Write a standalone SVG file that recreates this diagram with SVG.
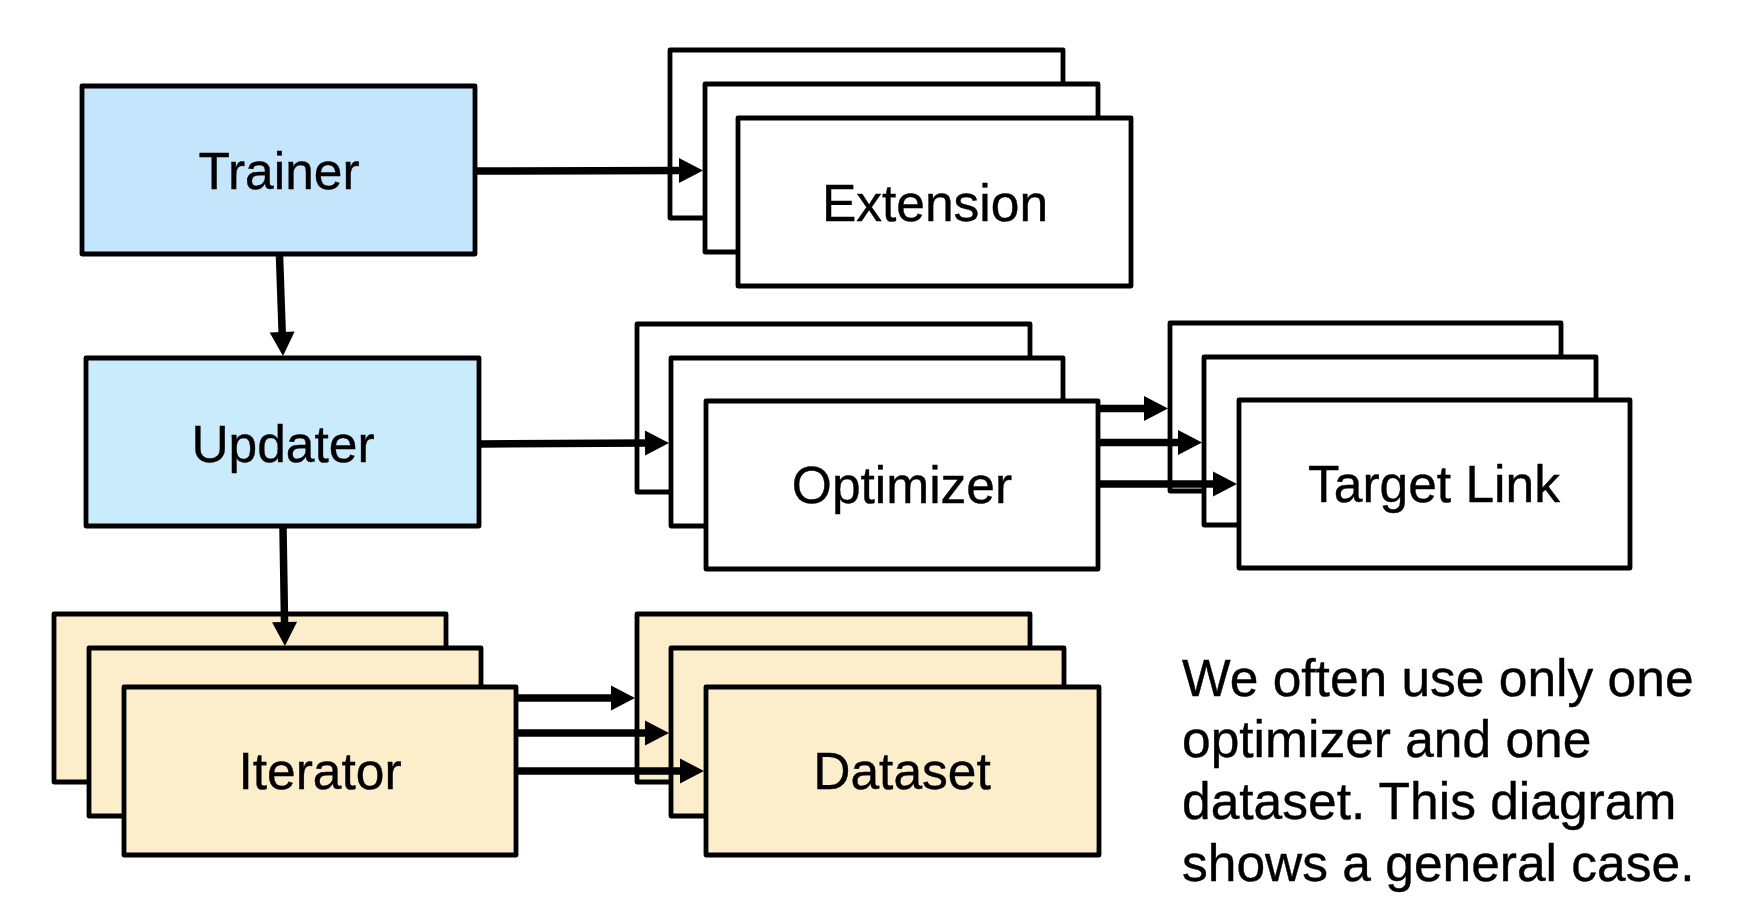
<svg xmlns="http://www.w3.org/2000/svg" width="1748" height="918" viewBox="0 0 1748 918">
<style>
.box{stroke:#000;stroke-width:4.8;stroke-linejoin:round}
.blue{fill:#c4e5fb}
.blue2{fill:#c9ebfc}
.white{fill:#fff}
.cream{fill:#fdeecb}
.lbl{font-family:"Liberation Sans",Arial,sans-serif;font-size:51.5px;fill:#000;stroke:#000;stroke-width:0.4;text-anchor:middle}
.note{font-family:"Liberation Sans",Arial,sans-serif;font-size:51.5px;fill:#000;stroke:#000;stroke-width:0.4}
.conn{stroke:#000;stroke-width:7.5;fill:none;marker-end:url(#ah)}
</style>
<defs>
<marker id="ah" markerUnits="userSpaceOnUse" markerWidth="26" markerHeight="26" refX="4" refY="12.5" orient="auto" overflow="visible">
<path d="M0,0 L24,12.5 L0,25 Z" fill="#000"/>
</marker>
</defs>
<rect width="1748" height="918" fill="#fff"/>
<g id="trainer">
<rect class="box blue" x="82" y="86" width="393" height="168"/>
<text class="lbl" x="279" y="189">Trainer</text>
</g>
<g id="updater">
<rect class="box blue2" x="86" y="358" width="393" height="168"/>
<text class="lbl" x="283" y="462">Updater</text>
</g>
<g id="extension">
<rect class="box white" x="670" y="50" width="393" height="168"/>
<rect class="box white" x="705" y="84" width="393" height="168"/>
<rect class="box white" x="738" y="118" width="393" height="168"/>
<text class="lbl" x="935" y="221">Extension</text>
</g>
<g id="optimizer">
<rect class="box white" x="637" y="324" width="393" height="168"/>
<rect class="box white" x="671" y="358" width="392" height="168"/>
<rect class="box white" x="706" y="401" width="392" height="168"/>
<text class="lbl" x="902" y="503">Optimizer</text>
</g>
<g id="targetlink">
<rect class="box white" x="1170" y="323" width="391" height="168"/>
<rect class="box white" x="1204" y="357" width="392" height="168"/>
<rect class="box white" x="1239" y="400" width="391" height="168"/>
<text class="lbl" x="1434" y="502">Target Link</text>
</g>
<g id="iterator">
<rect class="box cream" x="54" y="614" width="392" height="168"/>
<rect class="box cream" x="89" y="648" width="392" height="168"/>
<rect class="box cream" x="124" y="687" width="392" height="168"/>
<text class="lbl" x="320" y="789">Iterator</text>
</g>
<g id="dataset">
<rect class="box cream" x="637" y="614" width="393" height="168"/>
<rect class="box cream" x="671" y="648" width="393" height="168"/>
<rect class="box cream" x="706" y="687" width="393" height="168"/>
<text class="lbl" x="902" y="789">Dataset</text>
</g>
<g id="connectors">
<line class="conn" x1="477" y1="171" x2="683" y2="170.5"/>
<line class="conn" x1="279.5" y1="256" x2="282.3" y2="336"/>
<line class="conn" x1="481" y1="444" x2="649" y2="443"/>
<line class="conn" x1="283" y1="528" x2="284.6" y2="626"/>
<line class="conn" x1="1100" y1="408.5" x2="1148" y2="408.5"/>
<line class="conn" x1="1100" y1="442.5" x2="1182" y2="442.5"/>
<line class="conn" x1="1100" y1="484" x2="1217" y2="484"/>
<line class="conn" x1="518" y1="698" x2="615" y2="698"/>
<line class="conn" x1="518" y1="733" x2="649" y2="733"/>
<line class="conn" x1="518" y1="771" x2="684" y2="771"/>
</g>
<g id="note">
<text class="note" x="1182" y="696">We often use only one</text>
<text class="note" x="1182" y="757">optimizer and one</text>
<text class="note" x="1182" y="819">dataset. This diagram</text>
<text class="note" x="1182" y="881">shows a general case.</text>
</g>
</svg>
